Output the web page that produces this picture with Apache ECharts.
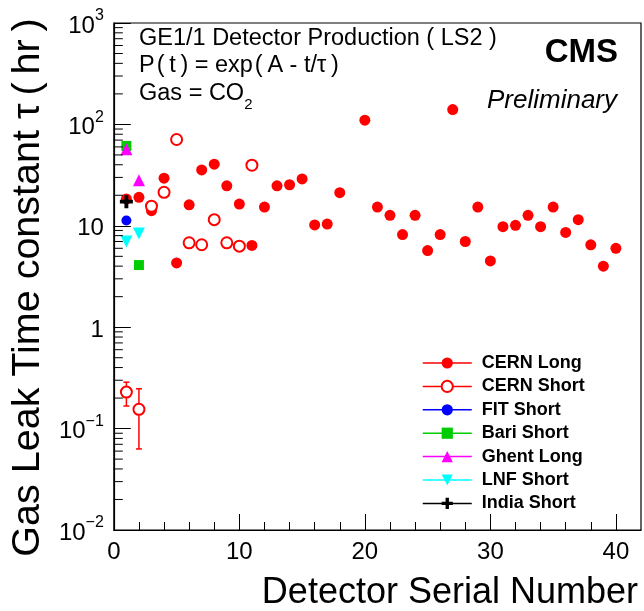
<!DOCTYPE html>
<html><head><meta charset="utf-8">
<script src="https://cdn.jsdelivr.net/npm/echarts@6/dist/echarts.min.js"></script>
<style>html,body{margin:0;padding:0;background:#fff}#c{width:644px;height:611px}</style>
</head><body><div id="c"></div>
<script>
// ---- data ----
const xTicks = [0, 10, 20, 30, 40];
const yTickExponents = [-2, -1, 0, 1, 2, 3];

const cernLongX = [1,2,3,4,5,6,7,8,9,10,11,12,13,14,15,16,17,18,20,21,22,23,24,25,26,27,28,29,30,31,32,33,34,35,36,37,38,39,40];
const cernLongY = [18.4,19.1,14.1,29.5,4.3,16.1,35.6,40.5,24.8,16.4,6.4,15.3,24.8,25.4,29.0,10.2,10.4,21.2,110,15.3,12.7,8.2,12.7,5.7,8.2,140,7.0,15.3,4.5,9.8,10.1,12.7,9.8,15.3,8.6,11.5,6.5,4.0,6.0];

const cernShortX = [1,2,3,4,5,6,7,8,9,10,11];
const cernShortY = [0.229,0.155,15.6,21.4,71,6.8,6.5,11.5,6.8,6.3,39.6];
const cernShortErrX = [1,2];
const cernShortErrLow = [0.167,0.063];
const cernShortErrHigh = [0.287,0.247];

const fitShortX = [1];
const fitShortY = [11.3];
const bariShortX = [1,2];
const bariShortY = [61.3,4.1];
const ghentLongX = [1,2];
const ghentLongY = [56.9,28.2];
const lnfShortX = [1,2];
const lnfShortY = [7.0,8.4];
const indiaShortX = [1];
const indiaShortY = [17.3];

// ---- chart ----
const FONT = '"Liberation Sans", Arial, Helvetica, sans-serif';
const pairs = (xs, ys) => xs.map((x, i) => [x, ys[i]]);

const yMinorTicks = [];
for (let e = -2; e <= 2; e++) for (let m = 2; m <= 9; m++) yMinorTicks.push([0, m * Math.pow(10, e)]);

function mk(name, xs, ys, symbol, size, color, extra) {
  return Object.assign({
    type: 'line', name, data: pairs(xs, ys), symbol, symbolSize: size,
    showSymbol: true, showAllSymbol: true, silent: true, animation: false,
    lineStyle: { opacity: 0, width: 0, color },
    itemStyle: { color, borderWidth: 0 }, z: 3
  }, extra || {});
}

const plus = 'path://M3.5,0 H6.5 V3.5 H10 V6.5 H6.5 V10 H3.5 V6.5 H0 V3.5 H3.5 Z';

const chart = echarts.init(document.getElementById('c'), null, { renderer: 'canvas' });
chart.setOption({
  animation: false,
  backgroundColor: '#fff',
  textStyle: { fontFamily: FONT },
  grid: { left: 112, right: 3, top: 23, bottom: 78, show: true, borderColor: '#000', borderWidth: 1.2, backgroundColor: 'transparent' },
  xAxis: {
    type: 'value', min: 0, max: 42, interval: 10,
    name: 'Detector Serial Number', nameLocation: 'end', nameGap: -3,
    nameTextStyle: { fontSize: 36, color: '#000', fontFamily: FONT, align: 'right', verticalAlign: 'top', padding: [45, 0, 0, 0] },
    axisLine: { show: true, lineStyle: { color: '#000', width: 1.2 } },
    axisTick: { show: true, inside: true, length: 16, lineStyle: { color: '#000', width: 1 }, customValues: xTicks },
    minorTick: { show: true, splitNumber: 5, length: 8, lineStyle: { color: '#000', width: 1 } },
    axisLabel: { fontSize: 24, color: '#000', margin: 10, fontFamily: FONT, customValues: xTicks },
    splitLine: { show: false }
  },
  yAxis: {
    type: 'log', logBase: 10, min: 0.01, max: 1000,
    name: 'Gas Leak Time constant τ\u2009(\u2009hr\u2009)', nameLocation: 'middle', nameGap: 60, nameRotate: 90,
    nameTextStyle: { fontSize: 39.5, color: '#000', fontFamily: FONT, padding: [0, 22, 0, 0] },
    axisLine: { show: true, lineStyle: { color: '#000', width: 1.2 } },
    axisTick: { show: true, inside: true, length: 17, lineStyle: { color: '#000', width: 1 } },
    axisLabel: {
      margin: 10, color: '#000',
      formatter: function (v) {
        const e = Math.round(Math.log10(v));
        if (yTickExponents.indexOf(e) < 0) return '';
        if (e === 0) return '{b|1}';
        if (e === 1) return '{b|10}';
        return '{b|10}{s|' + (e < 0 ? '\u2212' : '') + Math.abs(e) + '}';
      },
      rich: {
        b: { fontSize: 24, lineHeight: 30, verticalAlign: 'bottom', fontFamily: FONT, color: '#000' },
        s: { fontSize: 16, lineHeight: 16, verticalAlign: 'top', fontFamily: FONT, color: '#000' }
      }
    },
    splitLine: { show: false }
  },
  legend: {
    orient: 'vertical', left: 422, top: 354, padding: 0,
    itemWidth: 49, itemHeight: 14, itemGap: 5.4,
    textStyle: { fontSize: 18, fontWeight: 'bold', color: '#000', fontFamily: FONT, padding: [0, 0, 0, 5] },
    lineStyle: { opacity: 1, width: 1.5 },
    data: ['CERN Long', 'CERN Short', 'FIT Short', 'Bari Short', 'Ghent Long', 'LNF Short', 'India Short']
  },
  graphic: [
    { type: 'text', x: 139, y: 39, style: { text: 'GE1/1 Detector Production ( LS2 )', font: '23.5px ' + FONT, fill: '#000', verticalAlign: 'middle' } },
    { type: 'text', x: 139, y: 66, style: { text: 'P\u200a(\u2009t\u2009) = exp\u200a(\u2009A - t/τ\u2009)', font: '23.5px ' + FONT, fill: '#000', verticalAlign: 'middle' } },
    { type: 'text', x: 139, y: 97, style: { text: '{n|Gas = CO}{sub|2}', fill: '#000', verticalAlign: 'middle',
        rich: { n: { fontSize: 23.5, fontFamily: FONT, lineHeight: 30, verticalAlign: 'top' }, sub: { fontSize: 15, fontFamily: FONT, lineHeight: 15, verticalAlign: 'bottom' } } } },
    { type: 'text', x: 618, y: 53, style: { text: 'CMS', font: 'bold 33px ' + FONT, fill: '#000', align: 'right', verticalAlign: 'middle' } },
    { type: 'text', x: 617, y: 101, style: { text: 'Preliminary', font: 'italic 26px ' + FONT, fill: '#000', align: 'right', verticalAlign: 'middle' } }
  ],
  series: [
    {
      type: 'custom', name: 'yminor', silent: true, clip: false, z: 5,
      data: yMinorTicks,
      renderItem: function (params, api) {
        const p = api.coord([api.value(0), api.value(1)]);
        return { type: 'line', shape: { x1: p[0], y1: p[1], x2: p[0] + 9, y2: p[1] }, style: { stroke: '#000', lineWidth: 1 } };
      }
    },
    {
      type: 'custom', name: 'cernShortErr', silent: true, z: 2,
      data: cernShortErrX.map((x, i) => [x, cernShortErrLow[i], cernShortErrHigh[i]]),
      renderItem: function (params, api) {
        const lo = api.coord([api.value(0), api.value(1)]);
        const hi = api.coord([api.value(0), api.value(2)]);
        const w = 3;
        return { type: 'group', children: [
          { type: 'line', shape: { x1: lo[0], y1: lo[1], x2: hi[0], y2: hi[1] }, style: { stroke: '#ff0000', lineWidth: 1.5 } },
          { type: 'line', shape: { x1: lo[0] - w, y1: lo[1], x2: lo[0] + w, y2: lo[1] }, style: { stroke: '#ff0000', lineWidth: 1.5 } },
          { type: 'line', shape: { x1: hi[0] - w, y1: hi[1], x2: hi[0] + w, y2: hi[1] }, style: { stroke: '#ff0000', lineWidth: 1.5 } }
        ] };
      }
    },
    mk('CERN Long', cernLongX, cernLongY, 'circle', 11, '#ff0000'),
    mk('CERN Short', cernShortX, cernShortY, 'emptyCircle', 11, '#ff0000', { itemStyle: { color: '#ff0000', borderWidth: 1.5 } }),
    mk('FIT Short', fitShortX, fitShortY, 'circle', 10, '#0000ff'),
    mk('Bari Short', bariShortX, bariShortY, 'rect', 10, '#00cc00'),
    mk('Ghent Long', ghentLongX, ghentLongY, 'triangle', 12, '#ff00ff'),
    mk('LNF Short', lnfShortX, lnfShortY, 'path://M0,0 L10,0 L5,10 Z', 12, '#00ffff'),
    mk('India Short', indiaShortX, indiaShortY, plus, 13, '#000000')
  ]
});
</script>
</body></html>
